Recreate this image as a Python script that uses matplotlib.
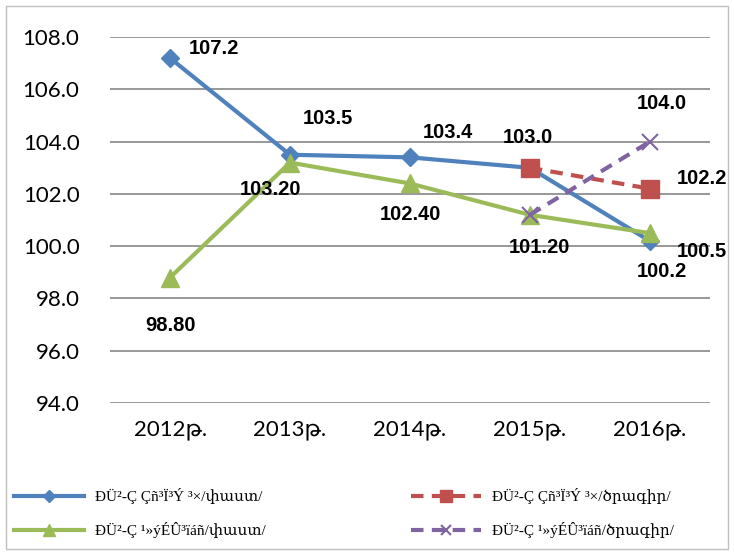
import matplotlib.pyplot as plt
from matplotlib.patches import Rectangle

years = ['2012թ.', '2013թ.', '2014թ.', '2015թ.', '2016թ.']
real_fact = [107.2, 103.5, 103.4, 103.0, 100.2]
real_plan = [None, None, None, 103.0, 102.2]
defl_fact = [98.8, 103.2, 102.4, 101.2, 100.5]
defl_plan = [None, None, None, 101.2, 104.0]

lbl_real_fact = 'ÐÜ²-Ç Çñ³Ï³Ý ³×/փաստ/'
lbl_real_plan = 'ÐÜ²-Ç Çñ³Ï³Ý ³×/ծրագիր/'
lbl_defl_fact = 'ÐÜ²-Ç ¹»ýÉÛ³ïáñ/փաստ/'
lbl_defl_plan = 'ÐÜ²-Ç ¹»ýÉÛ³ïáñ/ծրագիր/'

BLUE = '#4F81BD'
RED = '#C0504D'
GREEN = '#9BBB59'
PURPLE = '#8064A2'

plt.rcParams['font.family'] = ['Lato', 'DejaVu Sans']

fig = plt.figure(figsize=(7.34, 5.55), dpi=100)
ax = fig.add_axes([0.150, 0.274, 0.817, 0.659])

x = list(range(len(years)))
xp = [3, 4]

l1, = ax.plot(x, real_fact, color=BLUE, lw=3, marker='D', ms=9, zorder=3)
l3, = ax.plot(x, defl_fact, color=GREEN, lw=3, marker='^', ms=13, zorder=4)
l2, = ax.plot(xp, real_plan[3:], color=RED, lw=3, ls=(0, (3, 2)), marker='s', ms=13, zorder=5)
l4, = ax.plot(xp, defl_plan[3:], color=PURPLE, lw=3, ls=(0, (3, 2)), marker='x', ms=11,
              mew=1.5, zorder=6)

ax.set_xlim(-0.5, 4.5)
ax.set_ylim(94, 108)
ax.set_yticks([94, 96, 98, 100, 102, 104, 106, 108])
ax.set_yticklabels(['%.1f' % v for v in ax.get_yticks()])
ax.set_xticks(x)
ax.set_xticklabels(years)
ax.tick_params(axis='both', length=0, labelsize=16)
ax.tick_params(axis='y', pad=22)
ax.tick_params(axis='x', pad=12)
ax.grid(axis='y', color='#868686', lw=1.2)
ax.set_axisbelow(True)
for s in ax.spines.values():
    s.set_visible(False)

def lab(xi, v, txt, dx, dy):
    ax.annotate(txt, (xi, v), xytext=(dx, -dy), textcoords='offset pixels',
                ha='center', va='center', fontsize=14.5, fontweight='bold',
                family=['Liberation Sans', 'DejaVu Sans'], zorder=10)

lab(0, real_fact[0], '107.2', 44, -10)
lab(1, real_fact[1], '103.5', 38, -36)
lab(2, real_fact[2], '103.4', 38, -25)
lab(3, real_fact[3], '103.0', -2, -30)
lab(4, real_fact[4], '100.2', 12, 31)
lab(4, real_plan[4], '102.2', 52, -10)
lab(4, defl_plan[4], '104.0', 12, -38)
lab(4, defl_fact[4], '100.5', 52, 18)
lab(0, defl_fact[0], '98.80', 0, 48)
lab(1, defl_fact[1], '103.20', -20, 27)
lab(2, defl_fact[2], '102.40', 0, 31)
lab(3, defl_fact[3], '101.20', 10, 33)

leg = fig.legend([l1, l3, l2, l4], [lbl_real_fact, lbl_defl_fact, lbl_real_plan, lbl_defl_plan],
                 ncol=2, loc='lower left', bbox_to_anchor=(0.0, 0.005), frameon=False,
                 handlelength=4.6, columnspacing=9.5, labelspacing=1.2, handletextpad=0.7,
                 markerscale=0.65,
                 prop={'family': ['Liberation Serif', 'DejaVu Serif'], 'size': 11})

fig.patches.append(Rectangle((0.008, 0.01), 0.984, 0.98, transform=fig.transFigure,
                             fill=False, edgecolor='#BFBFBF', lw=1))

fig.savefig('out.png', dpi=100)
